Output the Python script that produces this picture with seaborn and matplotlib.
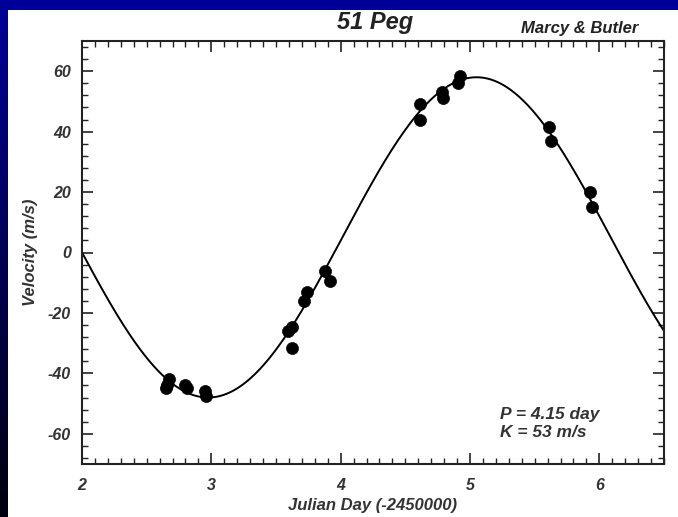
import numpy as np
import pandas as pd
import matplotlib
matplotlib.use("Agg")
import matplotlib.pyplot as plt
from matplotlib.patches import Rectangle
from matplotlib.ticker import MultipleLocator
import seaborn as sns

# ---- data ----
obs_day = [2.65, 2.67, 2.66, 2.80, 2.81, 2.95, 2.96,
           3.59, 3.62, 3.62, 3.72, 3.74, 3.88, 3.92,
           4.61, 4.61, 4.78, 4.79, 4.91, 4.92,
           5.61, 5.63, 5.93, 5.94]
obs_vel = [-45, -42, -44, -44, -45, -46, -47.5,
           -26, -24.5, -31.5, -16, -13, -6, -9.5,
           49, 44, 53, 51, 56, 58.5,
           41.5, 37, 20, 15]

# orbit fit parameters (as printed on the chart)
period_day = 4.15
k_amp = 53.0
gamma_vel = 5.0
t_zero = 1.938

x_ticks = [2, 3, 4, 5, 6]
y_ticks = [-60, -40, -20, 0, 20, 40, 60]

# model curve from the stated fit
fit_day = np.linspace(2.0, 6.5, 400)
fit_vel = gamma_vel - k_amp * np.sin(2 * np.pi * (fit_day - t_zero) / period_day)

obs = pd.DataFrame({"day": obs_day, "vel": obs_vel})
fit = pd.DataFrame({"day": fit_day, "vel": fit_vel})

sns.set_style("ticks")
plt.rcParams["font.family"] = ["Liberation Sans", "DejaVu Sans"]

fig = plt.figure(figsize=(6.78, 5.17), dpi=100)
fig.patch.set_facecolor("white")

# slide background: top strip and left gradient strip
fig.patches.append(Rectangle((0, 1 - 10 / 517), 1, 10 / 517, transform=fig.transFigure,
                             facecolor="#000099", edgecolor="none", zorder=0))
gax = fig.add_axes([0, 0, 8 / 678, 1], zorder=0)
grad = np.linspace(0, 1, 256)[:, None]
top = np.array([0, 0, 153]) / 255
bot = np.array([0, 0, 16]) / 255
img = top[None, None, :] * (1 - grad[:, :, None]) + bot[None, None, :] * grad[:, :, None]
gax.imshow(img, aspect="auto", extent=[0, 1, 0, 1])
gax.set_axis_off()

ax = fig.add_axes([82 / 678, 53 / 517, 582 / 678, 423 / 517], zorder=2)
ax.set_facecolor("white")

sns.lineplot(data=fit, x="day", y="vel", ax=ax, color="black", linewidth=1.4,
             estimator=None, sort=False)
sns.scatterplot(data=obs, x="day", y="vel", ax=ax, color="black", s=75,
                edgecolor="black", linewidth=0.5, zorder=3)

ax.set_xlim(2, 6.5)
ax.set_ylim(-70, 70)
ax.set_xticks(x_ticks)
ax.set_yticks(y_ticks)
ax.set_xticklabels([str(t) for t in x_ticks])
ax.set_yticklabels([str(t) for t in y_ticks])
ax.xaxis.set_minor_locator(MultipleLocator(0.1))
ax.yaxis.set_minor_locator(MultipleLocator(4))
ax.tick_params(which="both", direction="in", top=True, right=True, color="#222222")
ax.tick_params(which="major", length=8, width=1.2)
ax.tick_params(axis="x", which="major", pad=10)
ax.tick_params(axis="y", which="major", pad=8)
ax.tick_params(which="minor", length=4, width=1.0)
for lab in ax.get_xticklabels() + ax.get_yticklabels():
    lab.set_fontsize(11.5)
    lab.set_fontweight("bold")
    lab.set_fontstyle("italic")
    lab.set_color("#333333")
for sp in ax.spines.values():
    sp.set_linewidth(1.5)
    sp.set_color("#222222")

ax.set_xlabel("Julian Day (-2450000)", fontsize=12, fontweight="bold",
              fontstyle="italic", color="#333333", labelpad=4)
ax.set_ylabel("Velocity (m/s)", fontsize=12, fontweight="bold",
              fontstyle="italic", color="#333333", labelpad=7)

fig.text(375 / 678, 1 - 22 / 517, "51 Peg", fontsize=17, fontweight="bold",
         fontstyle="italic", ha="center", va="center", color="#222222")
fig.text(580 / 678, 1 - 28 / 517, "Marcy & Butler", fontsize=12, fontweight="bold",
         fontstyle="italic", ha="center", va="center", color="#222222")

ax.text(5.23, -53.5, "P = 4.15 day", fontsize=12.5, fontweight="bold",
        fontstyle="italic", ha="left", va="center", color="#333333")
ax.text(5.23, -59.5, "K = 53 m/s", fontsize=12.5, fontweight="bold",
        fontstyle="italic", ha="left", va="center", color="#333333")

fig.savefig("out.png", dpi=100)
